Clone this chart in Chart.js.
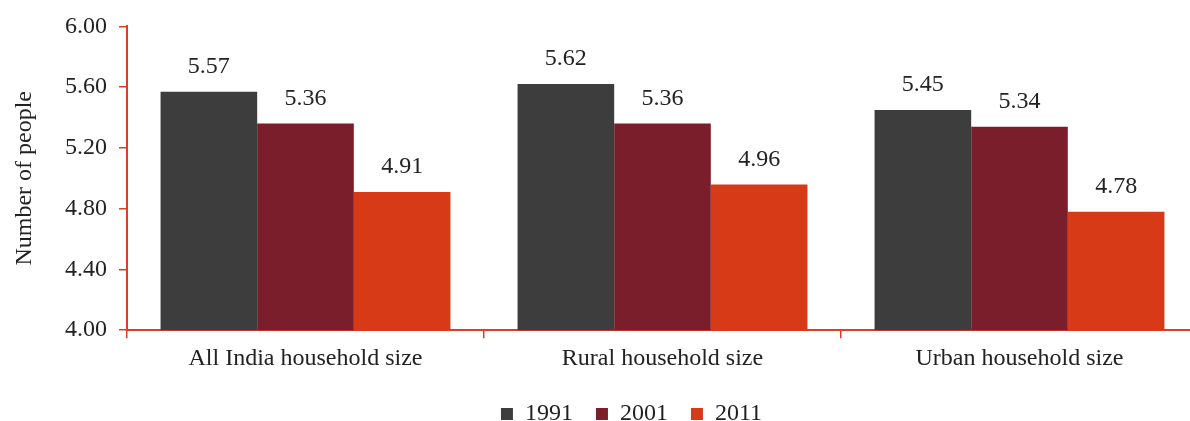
<!DOCTYPE html>
<html>
<head>
<meta charset="utf-8">
<script src="https://cdn.jsdelivr.net/npm/chart.js@4.4.0/dist/chart.umd.min.js"></script>
<style>
  html, body { margin: 0; padding: 0; background: #fff; overflow: hidden; }
  /* the last category runs a little past the right edge in the original */
  #wrap { width: 1198px; height: 421px; }
</style>
</head>
<body>
<div id="wrap"><canvas id="chart"></canvas></div>
<script>
const categories = ['All India household size', 'Rural household size', 'Urban household size'];
const years = ['1991', '2001', '2011'];
const values1991 = [5.57, 5.62, 5.45];
const values2001 = [5.36, 5.36, 5.34];
const values2011 = [4.91, 4.96, 4.78];
const colors = ['#3d3d3d', '#7a1e2b', '#d63a17'];
const axisRed = '#d9411f';

// value labels above each bar
const barLabels = {
    id: 'barLabels',
    afterDatasetsDraw(chart) {
        const ctx = chart.ctx;
        ctx.save();
        ctx.font = '24px "Liberation Serif", "Times New Roman", serif';
        ctx.fillStyle = '#222';
        ctx.textAlign = 'center';
        ctx.textBaseline = 'middle';
        chart.data.datasets.forEach((ds, i) => {
            const meta = chart.getDatasetMeta(i);
            meta.data.forEach((bar, j) => {
                ctx.fillText(ds.data[j].toFixed(2), bar.x, bar.y - 25);
            });
        });
        ctx.restore();
    }
};

// nudge the legend a little left, like the original
const legendShift = {
    id: 'legendShift',
    afterLayout(chart) {
        if (chart.legend) {
            chart.legend.left -= 31;
            chart.legend.right -= 31;
        }
    }
};

Chart.defaults.font.family = '"Liberation Serif", "Times New Roman", serif';
Chart.defaults.font.size = 24;
Chart.defaults.color = '#222';

new Chart(document.getElementById('chart').getContext('2d'), {
    type: 'bar',
    data: {
        labels: categories,
        datasets: [
            { label: years[0], data: values1991, backgroundColor: colors[0] },
            { label: years[1], data: values2001, backgroundColor: colors[1] },
            { label: years[2], data: values2011, backgroundColor: colors[2] }
        ]
    },
    options: {
        responsive: true,
        maintainAspectRatio: false,
        animation: false,
        categoryPercentage: 0.812,
        barPercentage: 1.0,
        layout: { padding: { top: 8, right: 0, left: 10, bottom: -15 } },
        plugins: {
            tooltip: { enabled: false },
            legend: {
                position: 'bottom',
                fullSize: false,
                labels: {
                    boxWidth: 12,
                    boxHeight: 12,
                    padding: 23,
                    font: { size: 24 }
                }
            }
        },
        scales: {
            x: {
                grid: {
                    offset: true,
                    drawOnChartArea: false,
                    color: axisRed,
                    tickLength: 8,
                    lineWidth: 1.5
                },
                border: { color: axisRed, width: 2 },
                ticks: { padding: 6 }
            },
            y: {
                min: 4.0,
                max: 6.0,
                afterFit(scale) { scale.width = 117; },
                grid: {
                    drawOnChartArea: false,
                    color: axisRed,
                    tickLength: 8,
                    lineWidth: 1.5
                },
                border: { color: axisRed, width: 2 },
                ticks: {
                    stepSize: 0.4,
                    padding: 12,
                    callback: v => v.toFixed(2)
                },
                title: {
                    display: true,
                    text: 'Number of people',
                    font: { size: 24 },
                    padding: { top: 0, bottom: 0 }
                }
            }
        }
    },
    plugins: [barLabels, legendShift]
});
</script>
</body>
</html>
